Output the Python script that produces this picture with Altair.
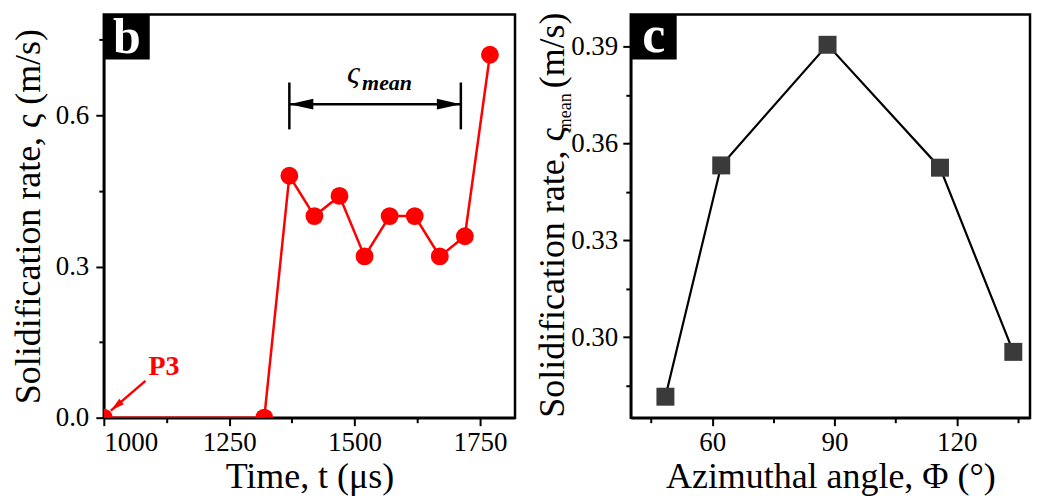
import altair as alt
import pandas as pd

FONT = "'Liberation Serif', 'Times New Roman', Times, 'DejaVu Serif', serif"

# ---------------- panel b data ----------------
time_us = [1000, 1320, 1370, 1420, 1470, 1520, 1570, 1620, 1670, 1720, 1770]
rate = [0.0, 0.0, 0.48, 0.40, 0.44, 0.32, 0.40, 0.40, 0.32, 0.36, 0.72]

b_x_major = [1000, 1250, 1500, 1750]
b_x_minor = [1125, 1375, 1625]
b_y_major = [0.0, 0.3, 0.6]
b_y_minor = [0.15, 0.45, 0.75]
b_x_domain = [1000, 1820]
b_y_domain = [0.0, 0.8]

# annotation (ς_mean span) in data units
span_x = [1370, 1712]
span_bar_y = [0.572, 0.665]
span_arrow_y = [0.622]
p3_arrow_start = [1083, 0.073]
p3_arrow_tip = [1014, 0.014]
p3_label = [1120, 0.085]

# ---------------- panel c data ----------------
phi = [48.5, 62.2, 88.3, 115.9, 133.9]
rate_mean = [0.2815, 0.3532, 0.3906, 0.3525, 0.2954]

c_x_major = [60, 90, 120]
c_x_minor = [45, 75, 105, 135]
c_y_major = [0.30, 0.33, 0.36, 0.39]
c_y_minor = [0.285, 0.315, 0.345, 0.375]
c_x_domain = [40, 138]
c_y_domain = [0.275, 0.40]

W_B, W_C, H = 412, 400, 404

dfb = pd.DataFrame({"t": time_us, "r": rate})
dfc = pd.DataFrame({"phi": phi, "r": rate_mean})
one = pd.DataFrame({"k": [0]})

major_axis = dict(labelFont=FONT, labelFontSize=27, labelColor="black",
                  tickColor="black", tickWidth=2, tickSize=8,
                  domainColor="black", domainWidth=2.5, grid=False,
                  titleFont=FONT, titleFontSize=36, titleFontWeight="normal",
                  titleColor="black")
minor_axis = dict(labels=False, tickColor="black", tickWidth=2, tickSize=5,
                  domain=False, grid=False, title=None)

NOAX = dict(axis=None)

# ---------- panel b ----------
bx = alt.X("t:Q", scale=alt.Scale(domain=b_x_domain, nice=False, zero=False),
           axis=alt.Axis(values=b_x_major, orient="bottom", format="d",
                         title="Time, t (μs)", labelPadding=4, titlePadding=4,
                         **major_axis))
by = alt.Y("r:Q", scale=alt.Scale(domain=b_y_domain, nice=False),
           axis=alt.Axis(values=b_y_major, orient="left", format=".1f",
                         title="Solidification rate, ς (m/s)", labelPadding=7,
                         titlePadding=8, **major_axis))

b_minor = alt.Chart(dfb).mark_point(opacity=0).encode(
    x=alt.X("t:Q", axis=alt.Axis(values=b_x_minor, orient="bottom", **minor_axis)),
    y=alt.Y("r:Q", axis=alt.Axis(values=b_y_minor, orient="left", **minor_axis)),
)
b_line = alt.Chart(dfb).mark_line(color="#ff0000", strokeWidth=2.5, clip=True).encode(x=bx, y=by)
b_pts = alt.Chart(dfb).mark_point(shape="circle", filled=True, size=320, color="#ff0000",
                                  opacity=1, clip=True).encode(
    x=alt.X("t:Q", **NOAX), y=alt.Y("r:Q", **NOAX))

df_bars = pd.DataFrame({"x": span_x, "y1": [span_bar_y[0]] * 2, "y2": [span_bar_y[1]] * 2})
b_bars = alt.Chart(df_bars).mark_rule(color="black", strokeWidth=2.5).encode(
    x=alt.X("x:Q", **NOAX), y=alt.Y("y1:Q", **NOAX), y2="y2:Q")
df_arrow = pd.DataFrame({"x1": [span_x[0]], "x2": [span_x[1]], "y": span_arrow_y})
b_arrow = alt.Chart(df_arrow).mark_rule(color="black", strokeWidth=2.5).encode(
    x=alt.X("x1:Q", **NOAX), x2="x2:Q", y=alt.Y("y:Q", **NOAX))
df_hl = pd.DataFrame({"x": [span_x[0]], "y": span_arrow_y})
df_hr = pd.DataFrame({"x": [span_x[1]], "y": span_arrow_y})
head_l = alt.Chart(df_hl).mark_point(
    shape="M0,0 L2,-0.45 L2,0.45 Z", filled=True, size=576, color="black", opacity=1
).encode(x=alt.X("x:Q", **NOAX), y=alt.Y("y:Q", **NOAX))
head_r = alt.Chart(df_hr).mark_point(
    shape="M0,0 L-2,-0.45 L-2,0.45 Z", filled=True, size=576, color="black", opacity=1
).encode(x=alt.X("x:Q", **NOAX), y=alt.Y("y:Q", **NOAX))
df_sym = pd.DataFrame({"x": [1498], "y": [0.665], "txt": ["ς"]})
sym = alt.Chart(df_sym).mark_text(font=FONT, fontSize=32, fontStyle="italic",
                                  align="center", baseline="alphabetic", color="black"
                                  ).encode(x=alt.X("x:Q", **NOAX), y=alt.Y("y:Q", **NOAX),
                                           text="txt:N")
df_sub = pd.DataFrame({"x": [1515], "y": [0.650], "txt": ["mean"]})
sub = alt.Chart(df_sub).mark_text(font=FONT, fontSize=22, fontStyle="italic", fontWeight="bold",
                                  align="left", baseline="alphabetic", color="black"
                                  ).encode(x=alt.X("x:Q", **NOAX), y=alt.Y("y:Q", **NOAX),
                                           text="txt:N")

df_p3 = pd.DataFrame({"x1": [p3_arrow_start[0]], "y1": [p3_arrow_start[1]],
                      "x2": [p3_arrow_tip[0]], "y2": [p3_arrow_tip[1]]})
p3_line = alt.Chart(df_p3).mark_rule(color="#ff0000", strokeWidth=2.5).encode(
    x=alt.X("x1:Q", **NOAX), y=alt.Y("y1:Q", **NOAX), x2="x2:Q", y2="y2:Q")
p3_head = alt.Chart(df_p3).mark_point(
    shape="M0,0 L2,-0.5 L2,0.5 Z", filled=True, size=200, color="#ff0000", opacity=1, angle=320
).encode(x=alt.X("x2:Q", **NOAX), y=alt.Y("y2:Q", **NOAX))
df_p3t = pd.DataFrame({"x": [p3_label[0]], "y": [p3_label[1]], "txt": ["P3"]})
p3_text = alt.Chart(df_p3t).mark_text(font=FONT, fontSize=28, fontWeight="bold", color="#ff0000",
                                      align="center", baseline="alphabetic"
                                      ).encode(x=alt.X("x:Q", **NOAX), y=alt.Y("y:Q", **NOAX),
                                               text="txt:N")

b_box = alt.Chart(one).mark_rect(color="black").encode(
    x=alt.value(0), x2=alt.value(46), y=alt.value(0), y2=alt.value(45))
b_lbl = alt.Chart(one).mark_text(text="b", font=FONT, fontSize=50, fontWeight="bold",
                                 color="white", align="center", baseline="alphabetic").encode(
    x=alt.value(23), y=alt.value(39))

panel_b = alt.layer(
    b_minor, b_line, b_pts, b_bars, b_arrow, head_l, head_r, sym, sub,
    p3_line, p3_head, p3_text, b_box, b_lbl
).resolve_axis(x="independent", y="independent").properties(width=W_B, height=H)

# ---------- panel c ----------
cx = alt.X("phi:Q", scale=alt.Scale(domain=c_x_domain, nice=False, zero=False),
           axis=alt.Axis(values=c_x_major, orient="bottom", format="d",
                         title="Azimuthal angle, Φ (°)", labelPadding=4, titlePadding=4,
                         **major_axis))
cy = alt.Y("r:Q", scale=alt.Scale(domain=c_y_domain, nice=False, zero=False),
           axis=alt.Axis(values=c_y_major, orient="left", format=".2f", title=None,
                         labelPadding=5, **major_axis))

c_minor = alt.Chart(dfc).mark_point(opacity=0).encode(
    x=alt.X("phi:Q", axis=alt.Axis(values=c_x_minor, orient="bottom", **minor_axis)),
    y=alt.Y("r:Q", axis=alt.Axis(values=c_y_minor, orient="left", **minor_axis)),
)
c_line = alt.Chart(dfc).mark_line(color="black", strokeWidth=2.2).encode(x=cx, y=cy)
c_pts = alt.Chart(dfc).mark_point(shape="square", filled=True, size=324, color="#3a3a3a",
                                  opacity=1).encode(x=alt.X("phi:Q", **NOAX),
                                                    y=alt.Y("r:Q", **NOAX))
c_box = alt.Chart(one).mark_rect(color="black").encode(
    x=alt.value(0), x2=alt.value(46), y=alt.value(0), y2=alt.value(45))
c_lbl = alt.Chart(one).mark_text(text="c", font=FONT, fontSize=52, fontWeight="bold",
                                 color="white", align="center", baseline="alphabetic").encode(
    x=alt.value(23), y=alt.value(38))

ytitle_main = alt.Chart(one).mark_text(text="Solidification rate, ς", font=FONT, fontSize=36,
                                       angle=270, align="left", baseline="alphabetic",
                                       color="black").encode(x=alt.value(-67), y=alt.value(404))
ytitle_sub = alt.Chart(one).mark_text(text="mean", font=FONT, fontSize=18,
                                      angle=270, align="left", baseline="alphabetic",
                                      color="black").encode(x=alt.value(-60), y=alt.value(118))
ytitle_unit = alt.Chart(one).mark_text(text="(m/s)", font=FONT, fontSize=36,
                                       angle=270, align="left", baseline="alphabetic",
                                       color="black").encode(x=alt.value(-67), y=alt.value(74))

panel_c = alt.layer(
    c_minor, c_line, c_pts, c_box, c_lbl, ytitle_main, ytitle_sub, ytitle_unit
).resolve_axis(x="independent", y="independent").properties(width=W_C, height=H)

chart = alt.hconcat(panel_b, panel_c, spacing=16).properties(
    padding={"left": 1, "top": 0, "right": 0, "bottom": 0}, background="white"
).configure_view(stroke="black", strokeWidth=2.5)

chart.save("out.html", embed_options={"renderer": "svg", "actions": False})
